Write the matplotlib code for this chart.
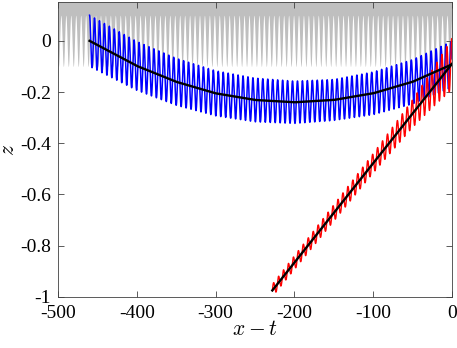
import numpy as np
import matplotlib
matplotlib.use('Agg')
import matplotlib.pyplot as plt

plt.rcParams['font.family'] = ['Liberation Serif', 'DejaVu Serif']
plt.rcParams['mathtext.fontset'] = 'cm'

# mean path of the blue trajectory
blue_mean_x = [-460, -400, -350, -300, -250, -200, -150, -100, -50, 0]
blue_mean_z = [0.0, -0.098, -0.160, -0.205, -0.231, -0.240, -0.231, -0.205, -0.160, -0.092]
# oscillation half-height around the mean
blue_amp_x = [-460, -300, -150, 0]
blue_amp_z = [0.10, 0.088, 0.08, 0.09]

# red trajectory: straight mean line and growing oscillation
red_mean_x = [-228, 0]
red_mean_z = [-0.975, -0.09]
red_amp_x = [-228, -150, -100, -50, -25, 0]
red_amp_z = [0.024, 0.032, 0.038, 0.054, 0.074, 0.1]

# grey band at the top: solid above 0.1, stripes down to -0.1
grey_amp = 0.1
wavelength = 2 * np.pi

fig = plt.figure(figsize=(4.57, 3.48), dpi=100)
ax = fig.add_axes([0.127, 0.147, 0.862, 0.846])

xg = np.linspace(-500, 0, 20000)
ax.fill_between(xg, grey_amp * np.cos(2 * np.pi * xg / wavelength), 0.3,
                color='0.75', lw=0)

xb = np.linspace(blue_mean_x[0], blue_mean_x[-1], 8000)
zb = np.interp(xb, blue_mean_x, blue_mean_z) + \
    np.interp(xb, blue_amp_x, blue_amp_z) * np.cos(2 * np.pi * (xb - xb[0]) / wavelength)
ax.plot(xb, zb, color='b', lw=1.1)

xr = np.linspace(red_mean_x[0], red_mean_x[-1], 5000)
zr = np.interp(xr, red_mean_x, red_mean_z) + \
    np.interp(xr, red_amp_x, red_amp_z) * np.sin(2 * np.pi * (xr - xr[0]) / wavelength)
ax.plot(xr, zr, color='r', lw=1.0)

# mean curves
xs = np.linspace(blue_mean_x[0], blue_mean_x[-1], 400)
ax.plot(xs, np.interp(xs, blue_mean_x, blue_mean_z), color='k', lw=1.7)
ax.plot(red_mean_x, red_mean_z, color='k', lw=1.7)

ax.set_xlim(-500, 0)
ax.set_ylim(-1, 0.15)
ax.set_xticks([-500, -400, -300, -200, -100, 0])
ax.set_yticks([-1, -0.8, -0.6, -0.4, -0.2, 0])
ax.set_xticklabels(['-500', '-400', '-300', '-200', '-100', '0'])
ax.set_yticklabels(['-1', '-0.8', '-0.6', '-0.4', '-0.2', '0'])
ax.tick_params(direction='in', top=True, right=True, length=4, width=0.6,
               labelsize=14, color='0.25')
ax.tick_params(axis='x', pad=6)
ax.tick_params(axis='y', pad=5)
for s in ax.spines.values():
    s.set_color('0.25')
    s.set_linewidth(0.6)

ax.set_xlabel('$x - t$', fontsize=15.5, labelpad=-1)
fig.text(9 / 457, 0.57, '$z$', rotation=90, ha='center', va='center', fontsize=15.5)

fig.savefig('out.png', dpi=100)
